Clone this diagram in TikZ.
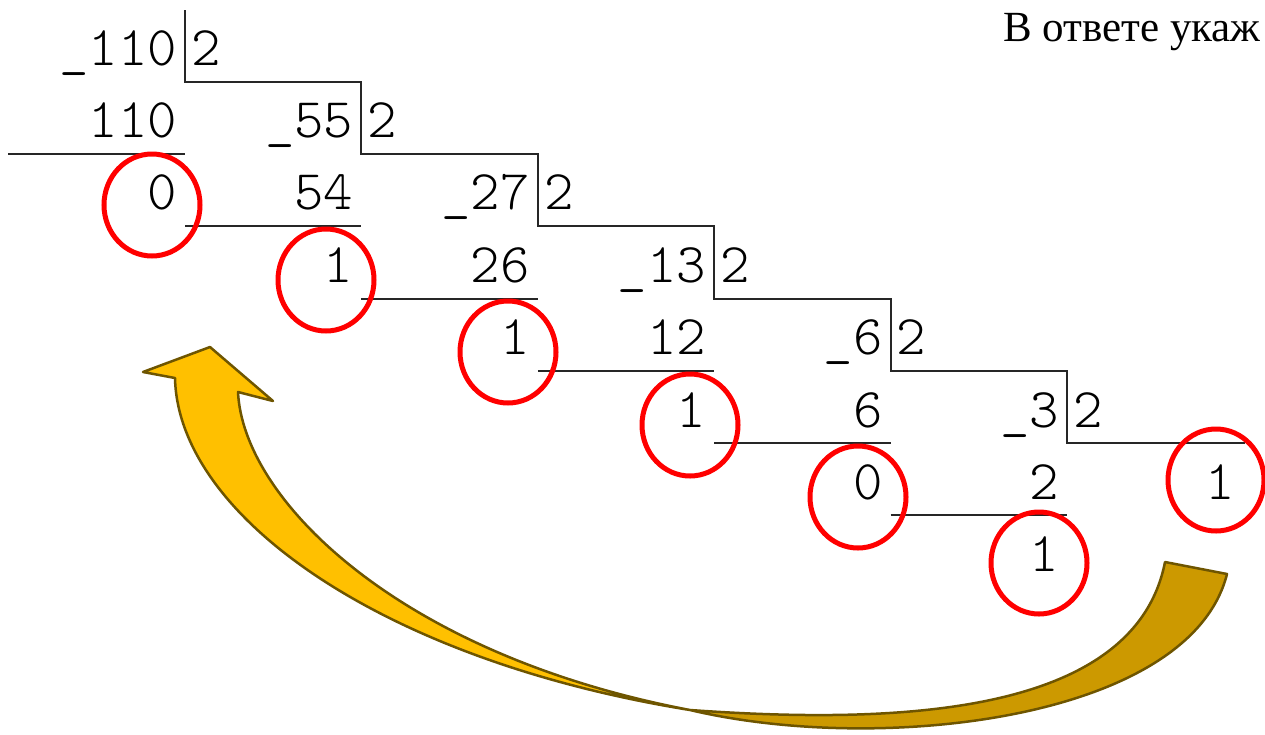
\documentclass[tikz,border=0pt]{standalone}
\usepackage{fontspec}
\setmainfont{Liberation Serif}
\newfontfamily\numfam[Extension=.otf]{lmmonolt10-regular}
\usetikzlibrary{shapes.geometric}
\newcommand\numfont{\numfam\fontsize{56}{56}\selectfont}
\definecolor{arrlight}{HTML}{FFC000}
\definecolor{arrdark}{HTML}{CC9900}
\definecolor{arredge}{HTML}{6E5500}
\begin{document}
\begin{tikzpicture}[x=1pt,y=-1pt,
  num/.style={font=\numfont, inner sep=0pt, anchor=base east},
  dvs/.style={font=\numfont, inner sep=0pt, anchor=base west},
  rule/.style={line width=2pt, black!85},
  ring/.style={draw=red, line width=5pt, ellipse, minimum width=96pt, minimum height=102pt, inner sep=0pt},
  arrowpart/.style={draw=arredge, line width=2.5pt, line join=round}
]
\useasboundingbox (0,0) rectangle (1265,734);

% curved arrow (drawn first, behind)
\coordinate (twist) at (690,710);
\coordinate (tailA) at (1165,562);
\coordinate (tailB) at (1227,574);
\filldraw[arrowpart, fill=arrdark]
  (twist) .. controls (900,725) and (1135,715) .. (tailA)
  -- (tailB)
  .. controls (1190,720) and (880,755) .. (twist) -- cycle;
\filldraw[arrowpart, fill=arrlight]
  (twist) .. controls (380,660) and (178,515) .. (175,378)
  -- (143,372) -- (210,347) -- (273,401) -- (238,392)
  .. controls (243,500) and (400,655) .. (twist) -- cycle;

% staircase
\draw[rule] (185,10) -- (185,82) -- (361.4,82) -- (361.4,154.2) -- (537.8,154.2)
  -- (537.8,226.4) -- (714.2,226.4) -- (714.2,298.6) -- (890.6,298.6)
  -- (890.6,370.8) -- (1067,370.8) -- (1067,443) -- (1245,443);
% subtraction lines
\draw[rule] (8,154.2) -- (185,154.2);
\draw[rule] (185,226.4) -- (361.4,226.4);
\draw[rule] (361.4,298.6) -- (537.8,298.6);
\draw[rule] (537.8,370.8) -- (714.2,370.8);
\draw[rule] (714.2,443) -- (890.6,443);
\draw[rule] (890.6,515.2) -- (1067,515.2);

% column 0
\node[num] (d0) at (177,65) {\_110};
\node[dvs] (q0) at (191,65) {2};
\node[num] (s0) at (177,137.4) {110};
\node[num] (m0) at (177,209.8) {0};
% column 1
\node[num] (d1) at (353.4,137.4) {\_55};
\node[dvs] (q1) at (367.4,137.4) {2};
\node[num] (s1) at (353.4,209.8) {54};
\node[num] (m1) at (353.4,282.2) {1};
% column 2
\node[num] (d2) at (529.8,209.8) {\_27};
\node[dvs] (q2) at (543.8,209.8) {2};
\node[num] (s2) at (529.8,282.2) {26};
\node[num] (m2) at (529.8,354.6) {1};
% column 3
\node[num] (d3) at (706.2,282.2) {\_13};
\node[dvs] (q3) at (720.2,282.2) {2};
\node[num] (s3) at (706.2,354.6) {12};
\node[num] (m3) at (706.2,427) {1};
% column 4
\node[num] (d4) at (882.6,354.6) {\_6};
\node[dvs] (q4) at (896.6,354.6) {2};
\node[num] (s4) at (882.6,427) {6};
\node[num] (m4) at (882.6,499.4) {0};
% column 5
\node[num] (d5) at (1059,427) {\_3};
\node[dvs] (q5) at (1073,427) {2};
\node[num] (s5) at (1059,499.4) {2};
\node[num] (m5) at (1059,571.8) {1};
% last quotient
\node[num] (m6) at (1235.4,499.4) {1};

% red rings
\node[ring] (c0) at (152,205) {};
\node[ring] (c1) at (326,280) {};
\node[ring] (c2) at (508,352) {};
\node[ring] (c3) at (690,425) {};
\node[ring] (c4) at (858,497) {};
\node[ring] (c5) at (1039,563) {};
\node[ring] (c6) at (1216,480) {};

% heading text
\node[anchor=base west, inner sep=0pt, font=\fontsize{43}{43}\selectfont] (note) at (1003,41) {В ответе укаж};
\end{tikzpicture}
\end{document}
